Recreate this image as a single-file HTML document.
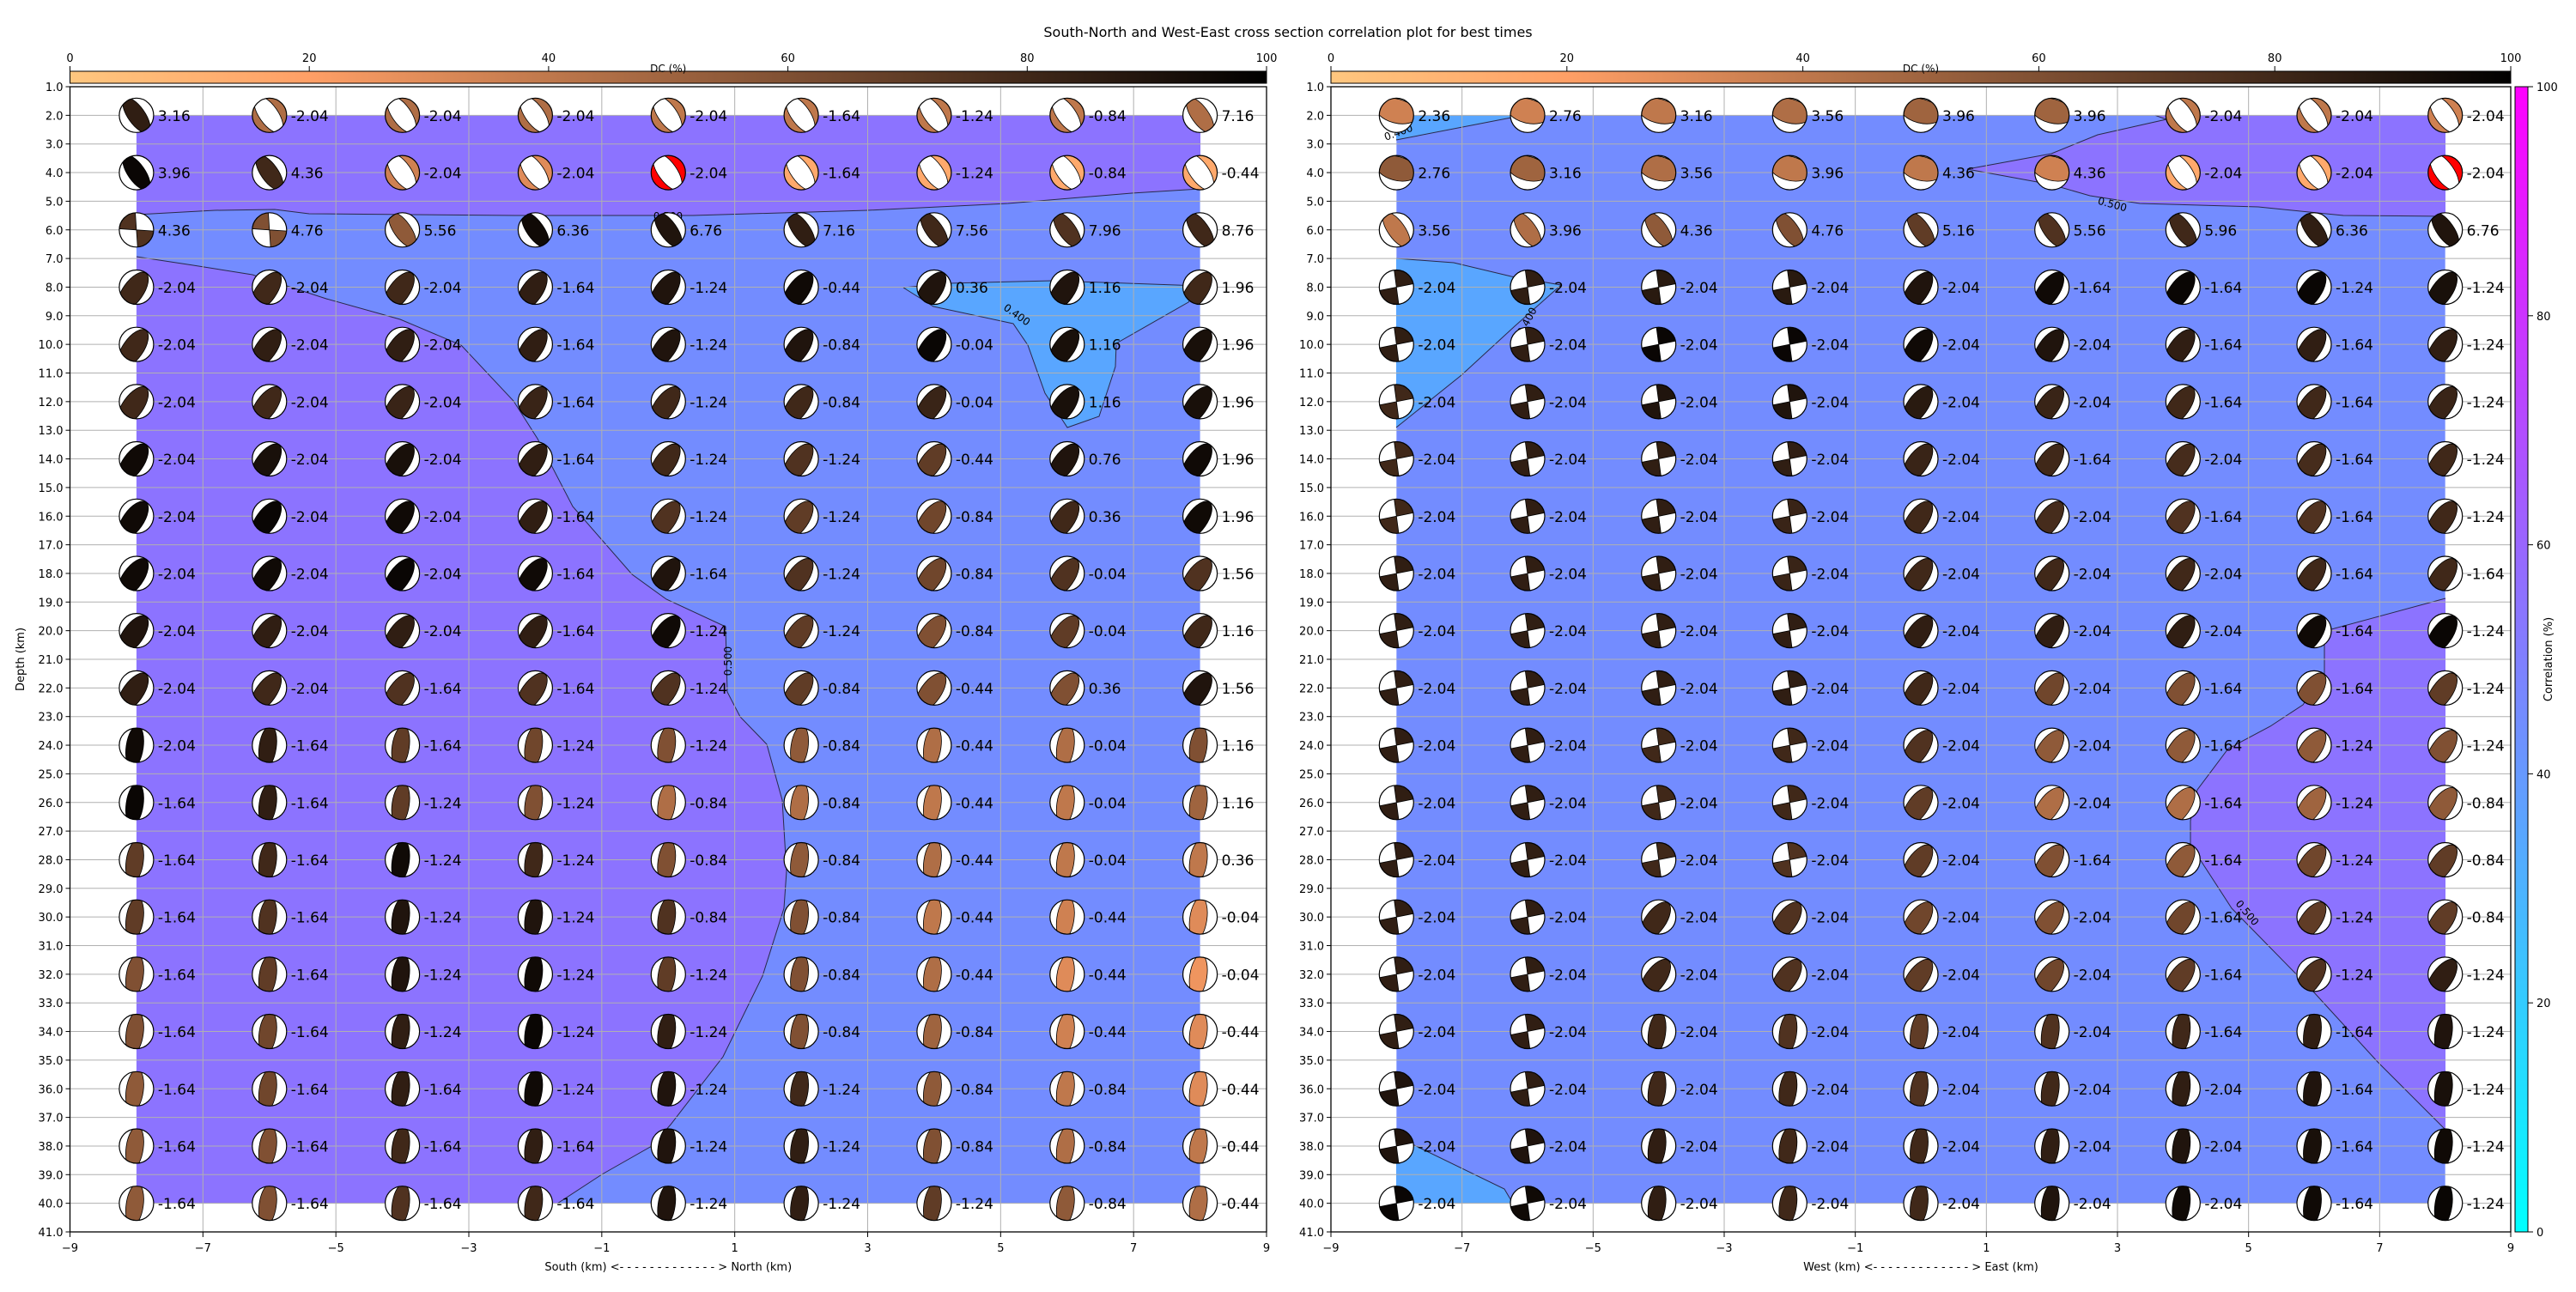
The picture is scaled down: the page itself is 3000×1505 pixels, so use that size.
<!DOCTYPE html>
<html><head><meta charset="utf-8"><style>
html,body{margin:0;padding:0;background:#fff;}
svg text{font-family:"DejaVu Sans","Liberation Sans",sans-serif;}
</style></head><body>
<svg id="s" xmlns="http://www.w3.org/2000/svg" width="3000" height="1500" viewBox="0 0 3000 1500">
<defs>
<linearGradient id="cop" x1="0" x2="1" y1="0" y2="0">
<stop offset="0" stop-color="rgb(255,199,127)"/>
<stop offset="0.2" stop-color="rgb(255,159,102)"/>
<stop offset="0.4" stop-color="rgb(191,120,76)"/>
<stop offset="0.6" stop-color="rgb(127,80,51)"/>
<stop offset="0.8" stop-color="rgb(64,40,25)"/>
<stop offset="1" stop-color="rgb(0,0,0)"/>
</linearGradient>
<linearGradient id="cool" x1="0" x2="0" y1="1" y2="0">
<stop offset="0" stop-color="#00ffff"/><stop offset="1" stop-color="#ff00ff"/>
</linearGradient>
<clipPath id="cc"><circle r="20"/></clipPath>
</defs>
<text x="1500" y="43" font-size="16" text-anchor="middle">South-North and West-East cross section correlation plot for best times</text>
<g id="content"></g>
</svg>
<script>
var LL=[
"3.16,-2.04,-2.04,-2.04,-2.04,-1.64,-1.24,-0.84,7.16",
"3.96,4.36,-2.04,-2.04,-2.04,-1.64,-1.24,-0.84,-0.44",
"4.36,4.76,5.56,6.36,6.76,7.16,7.56,7.96,8.76",
"-2.04,-2.04,-2.04,-1.64,-1.24,-0.44,0.36,1.16,1.96",
"-2.04,-2.04,-2.04,-1.64,-1.24,-0.84,-0.04,1.16,1.96",
"-2.04,-2.04,-2.04,-1.64,-1.24,-0.84,-0.04,1.16,1.96",
"-2.04,-2.04,-2.04,-1.64,-1.24,-1.24,-0.44,0.76,1.96",
"-2.04,-2.04,-2.04,-1.64,-1.24,-1.24,-0.84,0.36,1.96",
"-2.04,-2.04,-2.04,-1.64,-1.64,-1.24,-0.84,-0.04,1.56",
"-2.04,-2.04,-2.04,-1.64,-1.24,-1.24,-0.84,-0.04,1.16",
"-2.04,-2.04,-1.64,-1.64,-1.24,-0.84,-0.44,0.36,1.56",
"-2.04,-1.64,-1.64,-1.24,-1.24,-0.84,-0.44,-0.04,1.16",
"-1.64,-1.64,-1.24,-1.24,-0.84,-0.84,-0.44,-0.04,1.16",
"-1.64,-1.64,-1.24,-1.24,-0.84,-0.84,-0.44,-0.04,0.36",
"-1.64,-1.64,-1.24,-1.24,-0.84,-0.84,-0.44,-0.44,-0.04",
"-1.64,-1.64,-1.24,-1.24,-1.24,-0.84,-0.44,-0.44,-0.04",
"-1.64,-1.64,-1.24,-1.24,-1.24,-0.84,-0.84,-0.44,-0.44",
"-1.64,-1.64,-1.64,-1.24,-1.24,-1.24,-0.84,-0.84,-0.44",
"-1.64,-1.64,-1.64,-1.64,-1.24,-1.24,-0.84,-0.84,-0.44",
"-1.64,-1.64,-1.64,-1.64,-1.24,-1.24,-1.24,-0.84,-0.44"];
var RL=[
"2.36,2.76,3.16,3.56,3.96,3.96,-2.04,-2.04,-2.04",
"2.76,3.16,3.56,3.96,4.36,4.36,-2.04,-2.04,-2.04",
"3.56,3.96,4.36,4.76,5.16,5.56,5.96,6.36,6.76",
"-2.04,-2.04,-2.04,-2.04,-2.04,-1.64,-1.64,-1.24,-1.24",
"-2.04,-2.04,-2.04,-2.04,-2.04,-2.04,-1.64,-1.64,-1.24",
"-2.04,-2.04,-2.04,-2.04,-2.04,-2.04,-1.64,-1.64,-1.24",
"-2.04,-2.04,-2.04,-2.04,-2.04,-1.64,-2.04,-1.64,-1.24",
"-2.04,-2.04,-2.04,-2.04,-2.04,-2.04,-1.64,-1.64,-1.24",
"-2.04,-2.04,-2.04,-2.04,-2.04,-2.04,-2.04,-1.64,-1.64",
"-2.04,-2.04,-2.04,-2.04,-2.04,-2.04,-2.04,-1.64,-1.24",
"-2.04,-2.04,-2.04,-2.04,-2.04,-2.04,-1.64,-1.64,-1.24",
"-2.04,-2.04,-2.04,-2.04,-2.04,-2.04,-1.64,-1.24,-1.24",
"-2.04,-2.04,-2.04,-2.04,-2.04,-2.04,-1.64,-1.24,-0.84",
"-2.04,-2.04,-2.04,-2.04,-2.04,-1.64,-1.64,-1.24,-0.84",
"-2.04,-2.04,-2.04,-2.04,-2.04,-2.04,-1.64,-1.24,-0.84",
"-2.04,-2.04,-2.04,-2.04,-2.04,-2.04,-1.64,-1.24,-1.24",
"-2.04,-2.04,-2.04,-2.04,-2.04,-2.04,-1.64,-1.64,-1.24",
"-2.04,-2.04,-2.04,-2.04,-2.04,-2.04,-2.04,-1.64,-1.24",
"-2.04,-2.04,-2.04,-2.04,-2.04,-2.04,-2.04,-1.64,-1.24",
"-2.04,-2.04,-2.04,-2.04,-2.04,-2.04,-2.04,-1.64,-1.24"];
var LD=[
"85,45,45,45,40,40,40,40,45","97,80,35,30,-1,15,15,15,15","75,60,55,95,90,85,80,75,80",
"80,80,80,85,90,95,90,90,80","80,85,85,85,90,90,97,92,92","80,80,82,82,80,80,82,92,92",
"95,92,92,85,80,75,70,90,95","95,97,95,85,75,70,65,80,95","95,95,97,95,90,75,65,75,75",
"90,85,85,85,95,70,60,70,80","85,80,75,75,75,70,60,60,90","95,85,70,65,60,55,45,45,60",
"97,85,70,60,45,45,40,40,50","70,80,95,80,60,55,45,40,40","70,75,90,90,75,60,40,35,30",
"60,70,90,95,70,60,45,30,25","60,65,85,97,85,60,50,35,30","55,65,85,95,90,80,55,40,30",
"55,60,80,85,90,85,60,45,40","55,60,75,80,90,85,70,55,45"];
var RD=[
"35,35,40,45,50,50,40,40,35","55,50,45,40,40,35,15,15,-1","40,45,55,60,70,75,80,85,90",
"85,85,87,87,90,95,97,97,92","85,85,97,97,95,90,85,85,85","80,85,90,90,87,82,80,80,82",
"80,85,85,85,82,80,78,78,80","80,85,85,82,80,78,75,75,80","85,85,85,82,80,80,80,80,80",
"85,85,85,85,85,85,85,95,97","85,85,85,85,80,65,60,60,70","85,85,80,80,75,55,55,55,60",
"85,85,80,80,70,45,45,50,55","85,85,80,75,70,60,55,65,70","85,85,80,75,65,60,65,70,70",
"85,85,80,75,70,65,70,75,85","85,85,80,75,70,75,80,85,90","90,85,80,80,75,80,85,90,92",
"90,90,85,80,80,85,90,92,95","97,95,85,80,80,90,95,95,97"];
function cop(d){if(d<0)return "#ff0000";var x=1-d/100;var r=Math.min(1,1.25*x),g=0.7812*x,b=0.4975*x;
return "rgb("+Math.round(r*255)+","+Math.round(g*255)+","+Math.round(b*255)+")";}
function ltype(r,c){if(r==0)return(c==0||c==8)?'A':'B';if(r==1)return c<=1?'A':'B';if(r==2)return c<=1?'C1':'A';if(r<=10)return 'D';return 'E';}
function rtype(r,c){if(r<=1)return c>=6?'B':'F';if(r==2)return 'A';if(r<=13)return c<=3?'C2':'D';return c<=1?'C2':(r>=16?'E':'D');}
var SK=' stroke="#000" stroke-width="0.8"';
function ball(cx,cy,t,col){
 var s='<g transform="translate('+cx.toFixed(1)+','+cy.toFixed(1)+')"><circle r="20" fill="#fff"/><g clip-path="url(#cc)">';
 if(t=='A')s+='<ellipse rx="24" ry="10" transform="rotate(55)" fill="'+col+'"'+SK+'/>';
 else if(t=='B')s+='<circle r="20" fill="'+col+'"/><ellipse rx="25" ry="11" transform="translate(-1,-1) rotate(55)" fill="#fff"'+SK+'/>';
 else if(t=='C1')s+='<path d="M0,0 L-30,-2 L-30,-30 L-2,-30Z M0,0 L30,2 L30,30 L2,30Z" fill="'+col+'"'+SK+'/>';
 else if(t=='C2')s+='<path d="M0,0 L-30,6 L-30,30 L4,30Z M0,0 L30,-6 L30,-30 L-4,-30Z" fill="'+col+'"'+SK+'/>';
 else if(t=='D')s+='<ellipse rx="26" ry="12" transform="translate(-4,5) rotate(-55)" fill="'+col+'"'+SK+'/>';
 else if(t=='E')s+='<ellipse rx="10" ry="25" transform="translate(-2,2) rotate(8)" fill="'+col+'"'+SK+'/>';
 else if(t=='F')s+='<ellipse rx="25" ry="14" transform="translate(0,-5) rotate(15)" fill="'+col+'"'+SK+'/>';
 s+='</g><circle r="20" fill="none" stroke="#000" stroke-width="1.2"/></g>';return s;}
function pts(a){return a.map(function(p){return p[0]+','+p[1];}).join(' ');}
function region(line,close,fill){return '<polygon points="'+pts(line.concat(close))+'" fill="'+fill+'"/>';}
function cline(line){return '<polyline points="'+pts(line)+'" fill="none" stroke="#2a2a4a" stroke-width="1"/>';}
var PURP="rgb(140,115,255)",BLUE="rgb(115,140,255)",LB="rgb(89,166,255)";
function panel(x0,x1,labs,dcs,tf,regs,xlabel,clabels){
 var kx=(x1-x0)/18,X=function(x){return x0+(x+9)*kx;},Y=function(y){return 101+(y-1)*33.35;};
 var s='';
 s+='<rect x="'+x0+'" y="83" width="'+(x1-x0)+'" height="14" fill="url(#cop)" stroke="#000" stroke-width="1"/>';
 for(var i=0;i<=5;i++){var tx=x0+i*(x1-x0)/5;s+='<line x1="'+tx+'" x2="'+tx+'" y1="77" y2="83" stroke="#000"/><text x="'+tx+'" y="72" font-size="13" text-anchor="middle">'+(i*20)+'</text>';}
 s+='<text x="'+((x0+x1)/2)+'" y="84" font-size="12" text-anchor="middle">DC (%)</text>';
 s+='<rect x="'+X(-8)+'" y="'+Y(2)+'" width="'+(X(8)-X(-8))+'" height="'+(Y(40)-Y(2))+'" fill="'+BLUE+'"/>';
 regs.forEach(function(r){s+=region(r[0],r[1],r[2]);});
 regs.forEach(function(r){s+=cline(r[0]);});
 for(var y=1;y<=41;y++)s+='<line x1="'+x0+'" x2="'+x1+'" y1="'+Y(y)+'" y2="'+Y(y)+'" stroke="#b0b0b0" stroke-width="1"/>';
 for(var x=-9;x<=9;x+=2)s+='<line x1="'+X(x)+'" x2="'+X(x)+'" y1="101" y2="1435" stroke="#b0b0b0" stroke-width="1"/>';
 clabels.forEach(function(c){s+='<text x="'+c[0]+'" y="'+c[1]+'" font-size="12" text-anchor="middle" transform="rotate('+c[2]+','+c[0]+','+c[1]+')">'+c[3]+'</text>';});
 for(var r=0;r<20;r++){var L=labs[r].split(','),D=dcs[r].split(',');
  for(var c=0;c<9;c++){var cx=X(-8+2*c),cy=Y(2+2*r);s+=ball(cx,cy,tf(r,c),cop(+D[c]));
   s+='<text x="'+(cx+25)+'" y="'+(cy+6.5)+'" font-size="17">'+L[c]+'</text>';}}
 s+='<rect x="'+x0+'" y="101" width="'+(x1-x0)+'" height="1334" fill="none" stroke="#000" stroke-width="1.3"/>';
 for(var y=1;y<=41;y++){s+='<line x1="'+(x0-5)+'" x2="'+x0+'" y1="'+Y(y)+'" y2="'+Y(y)+'" stroke="#000"/><text x="'+(x0-8)+'" y="'+(Y(y)+5)+'" font-size="13" text-anchor="end">'+y+'.0</text>';}
 for(var x=-9;x<=9;x+=2){s+='<line x1="'+X(x)+'" x2="'+X(x)+'" y1="1435" y2="1441" stroke="#000"/><text x="'+X(x)+'" y="1458" font-size="13" text-anchor="middle">'+(x<0?'\u2212'+(-x):x)+'</text>';}
 s+='<text x="'+((x0+x1)/2)+'" y="1480" font-size="13" text-anchor="middle">'+xlabel+'</text>';
 return s;}
var leftRegs=[
 [[[159,250],[250,245],[320,244],[360,249],[600,251],[807,251],[1010,245],[1174,237],[1318,225],[1398,220]],[[1398,134.4],[159,134.4]],PURP],
 [[[1052,335],[1087,357],[1180,377],[1197,402],[1217,458],[1243,498],[1280,485],[1299,427],[1300,400],[1384,352],[1398,333],[1226,327],[1105,330],[1052,335]],[],LB],
 [[[159,299],[225,309],[294,320],[380,348],[466,372],[537,402],[598,467],[626,511],[667,590],[736,669],[776,698],[845,730],[847,806],[862,835],[893,867],[911,932],[916,1015],[913,1058],[888,1137],[842,1231],[781,1310],[759,1335],[701,1368],[649,1402]],[[159,1402]],PURP]];
var rightRegs=[
 [[[2510,134.4],[2523,139],[2443,157],[2389,179],[2291,197],[2389,215],[2434,228],[2492,237],[2630,241],[2729,251],[2848,252]],[[2848,134.4]],PURP],
 [[[1760,137],[1626,163]],[[1626,134.4],[1762,134.4]],LB],
 [[[1626,301],[1693,306],[1760,322],[1818,332],[1764,380],[1702,437],[1626,498]],[],LB],
 [[[1645,1333],[1752,1385],[1762,1402]],[[1626,1402],[1626,1340]],LB],
 [[[2848,697],[2715,733],[2707,749],[2707,785],[2682,821],[2644,846],[2595,872],[2559,920],[2551,956],[2551,984],[2599,1058],[2694,1155],[2769,1237],[2848,1316]],[],PURP]];
var out='';
out+=panel(81.5,1475,LL,LD,ltype,leftRegs,'South (km) &lt;- - - - - - - - - - - - - &gt; North (km)',
 [[778,256,0,'0.500'],[1182,370,35,'0.400'],[852,770,-90,'0.500']]);
out+=panel(1550,2924,RL,RD,rtype,rightRegs,'West (km) &lt;- - - - - - - - - - - - - &gt; East (km)',
 [[1630,158,-20,'0.400'],[1782,376,-62,'0.400'],[2459,242,15,'0.500'],[2614,1066,50,'0.500']]);
out+='<rect x="2929" y="101" width="15" height="1334" fill="url(#cool)" stroke="#000" stroke-width="1"/>';
for(var i=0;i<=5;i++){var ty=1435-i*1334/5;out+='<line x1="2944" x2="2950" y1="'+ty+'" y2="'+ty+'" stroke="#000"/><text x="2954" y="'+(ty+5)+'" font-size="13">'+(i*20)+'</text>';}
out+='<text x="2972" y="768" font-size="13" text-anchor="middle" transform="rotate(-90,2972,768)">Correlation (%)</text>';
out+='<text x="28" y="768" font-size="13" text-anchor="middle" transform="rotate(-90,28,768)">Depth (km)</text>';
document.getElementById('content').innerHTML=out;
</script>
</body></html>
